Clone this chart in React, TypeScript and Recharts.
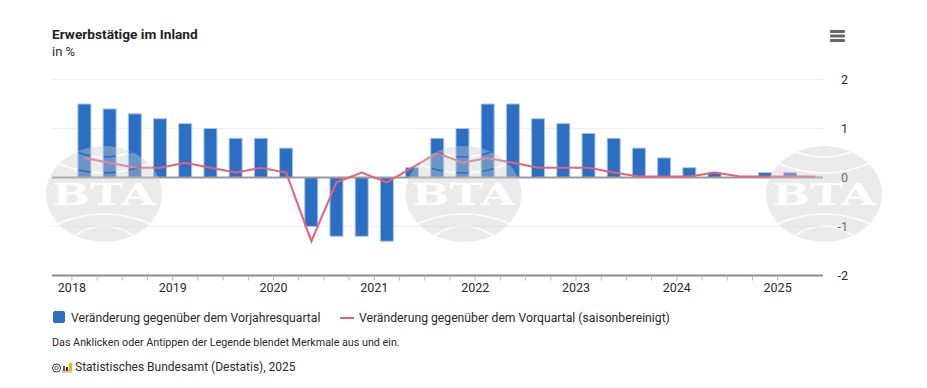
import React from "react";
import { ComposedChart, Bar, Line, XAxis, YAxis, CartesianGrid, ReferenceLine, Legend } from "recharts";

const quarters = ["2018 Q1","2018 Q2","2018 Q3","2018 Q4","2019 Q1","2019 Q2","2019 Q3","2019 Q4","2020 Q1","2020 Q2","2020 Q3","2020 Q4","2021 Q1","2021 Q2","2021 Q3","2021 Q4","2022 Q1","2022 Q2","2022 Q3","2022 Q4","2023 Q1","2023 Q2","2023 Q3","2023 Q4","2024 Q1","2024 Q2","2024 Q3","2024 Q4","2025 Q1","2025 Q2"];
const yearOverYear = [1.5,1.4,1.3,1.2,1.1,1.0,0.8,0.8,0.6,-1.0,-1.2,-1.2,-1.3,0.2,0.8,1.0,1.5,1.5,1.2,1.1,0.9,0.8,0.6,0.4,0.2,0.1,0,0.1,0.1,0];
const quarterOverQuarter = [0.4,0.3,0.2,0.2,0.3,0.2,0.1,0.2,0.1,-1.3,-0.1,0.1,-0.1,0.2,0.5,0.3,0.4,0.3,0.2,0.2,0.2,0.1,0.02,0.02,0.02,0.1,0.02,0.02,0.02,0.02];
const yTicks = [-2,-1,0,1,2];
const yearLabels = ["2018","2019","2020","2021","2022","2023","2024","2025"];
const barName = "Veränderung gegenüber dem Vorjahresquartal";
const lineName = "Veränderung gegenüber dem Vorquartal (saisonbereinigt)";
const title = "Erwerbstätige im Inland";
const unit = "in %";
const hint = "Das Anklicken oder Antippen der Legende blendet Merkmale aus und ein.";
const credit = "Statistisches Bundesamt (Destatis), 2025";

const data = quarters.map((q, i) => ({ i, q, yoy: yearOverYear[i], qoq: quarterOverQuarter[i] }));
const xTicks = quarters.slice(0, 29).map((_, i) => i - 0.5);
const FONT = "Roboto, 'Noto Sans', sans-serif";
const TEXT = "#2b2b2b";
const BLUE = "#2a6fc4";
const RED = "#e8607a";
const WM_CENTERS = [104, 463.5, 824];

const xTickLabel = (v: number) => {
  const idx = v + 0.5;
  return idx % 4 === 0 ? yearLabels[idx / 4] : "";
};

function LegendBox() {
  return (
    <div style={{ position: "relative", width: 800, height: 16, fontFamily: FONT, fontSize: 12.2, color: TEXT, whiteSpace: "nowrap" }}>
      <span style={{ position: "absolute", left: 1, top: 2, width: 12, height: 12, background: BLUE, borderRadius: 2 }} />
      <span style={{ position: "absolute", left: 19, top: 0, lineHeight: "18px" }}>{barName}</span>
      <span style={{ position: "absolute", left: 288, top: 8, width: 14, height: 2, background: RED }} />
      <span style={{ position: "absolute", left: 307, top: 0, lineHeight: "18px" }}>{lineName}</span>
    </div>
  );
}

function Watermark() {
  return (
    <svg width={927} height={388} style={{ position: "absolute", left: 0, top: 0, pointerEvents: "none" }}>
      <defs>
        {WM_CENTERS.map((cx, k) => (
          <mask id={"wm" + k} key={k} maskUnits="userSpaceOnUse" x={0} y={0} width={927} height={388}>
            <ellipse cx={cx} cy={194} rx={58} ry={48} fill="#fff" />
            <g fill="none" stroke="#000" strokeWidth={1.6}>
              <path d={`M${cx - 33} ${150} Q${cx} ${164} ${cx + 33} ${150}`} />
              <path d={`M${cx - 47} ${163} Q${cx} ${183} ${cx + 47} ${163}`} />
              <path d={`M${cx - 47} ${224} Q${cx} ${204} ${cx + 47} ${224}`} />
              <path d={`M${cx - 30} ${236} Q${cx} ${216} ${cx + 30} ${236}`} />
            </g>
            <text x={cx} y={205} textAnchor="middle" fontFamily="'DejaVu Serif', serif" fontWeight={700} fontSize={29} textLength={104} lengthAdjust="spacingAndGlyphs" fill="#000">BTA</text>
          </mask>
        ))}
      </defs>
      {WM_CENTERS.map((cx, k) => (
        <rect key={k} x={cx - 60} y={140} width={120} height={110} fill="rgba(204,204,204,0.4)" mask={`url(#wm${k})`} />
      ))}
    </svg>
  );
}

export default function App() {
  return (
    <div style={{ position: "absolute", left: 0, top: 0, width: 927, height: 388, background: "#fff", overflow: "hidden" }}>
      <div style={{ position: "absolute", left: 52, top: 25, fontFamily: FONT, fontSize: 13.7, fontWeight: 700, color: "#222", lineHeight: "18px" }}>{title}</div>
      <div style={{ position: "absolute", left: 52, top: 43, fontFamily: FONT, fontSize: 13, color: TEXT, lineHeight: "18px" }}>{unit}</div>
      <div style={{ position: "absolute", left: 52, top: 335, fontFamily: FONT, fontSize: 10.75, color: TEXT, lineHeight: "16px" }}>{hint}</div>
      <svg width={24} height={14} style={{ position: "absolute", left: 51, top: 360 }}>
        <circle cx={5.5} cy={8} r={4} fill="none" stroke="#333" strokeWidth={1} />
        <circle cx={5.5} cy={8} r={1.7} fill="none" stroke="#333" strokeWidth={0.8} />
        <rect x={11} y={10} width={10} height={3} fill="#cfcfcf" />
        <rect x={12} y={6} width={2} height={5} fill="#c0392b" />
        <rect x={15} y={7} width={2} height={4} fill="#333" />
        <rect x={18} y={3} width={3} height={8} fill="#e5b80b" />
      </svg>
      <div style={{ position: "absolute", left: 75, top: 359, fontFamily: FONT, fontSize: 12, color: TEXT, lineHeight: "16px" }}>{credit}</div>
      <svg width={16} height={12} style={{ position: "absolute", left: 830, top: 30 }}>
        <rect x={0} y={0} width={15} height={3} rx={1} fill="#666" />
        <rect x={0} y={4.5} width={15} height={3} rx={1} fill="#666" />
        <rect x={0} y={9} width={15} height={3} rx={1} fill="#666" />
      </svg>
      <ComposedChart width={927} height={388} data={data} margin={{ top: 79.5, left: 52, right: 74, bottom: 66.5 }} style={{ position: "absolute", left: 0, top: 0 }}>
        <CartesianGrid horizontal vertical={false} stroke="#efefef" strokeWidth={1} />
        <XAxis dataKey="i" type="number" domain={[-1.29, 29.3]} ticks={xTicks} tickFormatter={xTickLabel} interval={0} height={30} allowDataOverflow
          axisLine={{ stroke: "#8c8c8c", strokeWidth: 2 }} tickLine={{ stroke: "#b5b5b5", strokeWidth: 1 }} tickSize={5} tickMargin={3}
          tick={{ fontFamily: FONT, fontSize: 12.5, fill: TEXT }} />
        <YAxis orientation="right" width={30} domain={[-2, 2]} ticks={yTicks} interval={0} axisLine={false} tickLine={false}
          tick={{ fontFamily: FONT, fontSize: 12.5, fill: TEXT, textAnchor: "end", dx: 17, dy: 0.5 }} />
        <ReferenceLine y={0} stroke="#9a9a9a" strokeWidth={2} />
        <Bar dataKey="yoy" name={barName} fill={BLUE} stroke="#a9c4e8" strokeWidth={1} barSize={13} isAnimationActive={false} />
        <Line dataKey="qoq" name={lineName} type="linear" stroke={RED} strokeWidth={2} dot={false} isAnimationActive={false} />
        <Legend content={() => <LegendBox />} wrapperStyle={{ position: "absolute", left: 52, top: 309, width: 800, height: 16 }} />
      </ComposedChart>
      <Watermark />
    </div>
  );
}
